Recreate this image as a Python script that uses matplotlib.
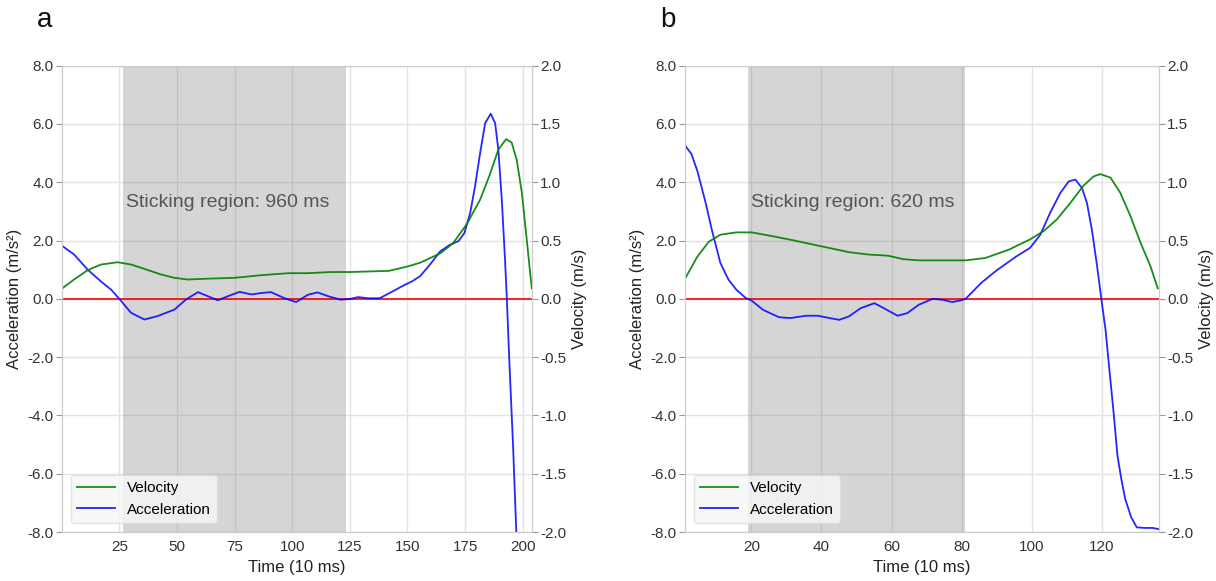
import matplotlib.pyplot as plt

plt.rcParams['font.family'] = ['Liberation Sans', 'DejaVu Sans']

# panel a  (time in 10 ms units)
a_acc_t = [0, 5.4, 11.3, 17, 21.4, 25, 30.1, 35.9, 41.7, 44.6, 48.9, 54, 59.1, 63.4, 67.8, 72.1,
           77.2, 82.3, 86.6, 90.8, 96.7, 101.7, 106.8, 111, 116, 121, 125.3, 128.6, 132.8, 137.9,
           142, 148.8, 152, 155.5, 159.8, 164.2, 168.5, 172.1, 174.7, 177.2, 179.3, 181.5, 183.7,
           186.1, 188, 189.4, 190.9, 192.3, 193.1, 194.1, 195.8, 197.2, 199, 201, 204]
a_acc = [1.83, 1.52, 1.0, 0.6, 0.32, 0.0, -0.48, -0.71, -0.59, -0.5, -0.37, -0.02, 0.23, 0.09,
         -0.05, 0.09, 0.24, 0.15, 0.2, 0.23, 0.02, -0.11, 0.14, 0.22, 0.08, -0.03, 0.0, 0.06, 0.02,
         0.02, 0.19, 0.48, 0.6, 0.78, 1.18, 1.63, 1.86, 1.98, 2.26, 2.95, 3.86, 5.0, 6.03,
         6.35, 6.03, 5.12, 3.41, 1.35, 0.0, -2.0, -5.06, -8.0, -10.5, -12.0, -12.5]
a_vel_t = [0, 5.4, 11.3, 17, 24.3, 30.1, 35.9, 43.1, 48.9, 54.7, 64.8, 74.9, 86.6, 98.4, 106.8,
           116.8, 125.3, 142, 150.5, 155.5, 164.2, 169.9, 175.7, 181.5, 185.8, 189.4, 192.8,
           195.2, 197.4, 199.6, 201.4, 203.9]
a_vel = [0.086, 0.166, 0.246, 0.294, 0.314, 0.294, 0.257, 0.209, 0.18, 0.166, 0.174, 0.18, 0.203,
         0.22, 0.22, 0.23, 0.23, 0.24, 0.28, 0.31, 0.39, 0.48, 0.64, 0.85, 1.07, 1.28, 1.37,
         1.34, 1.19, 0.91, 0.57, 0.09]

# panel b
b_acc_t = [1.25, 2.9, 4.6, 6.8, 9, 11.2, 13.5, 15.7, 18.4, 20.1, 23.4, 27.9, 31.2, 35.6, 39,
           42.3, 45.1, 47.9, 51.2, 55.1, 57.8, 61.7, 64.5, 67.8, 71.7, 74.5, 77.3, 79.5, 81.1,
           85.6, 90, 95.5, 99.5, 102.4, 105.2, 108.1, 110.5, 112.4, 114.3, 115.7, 117.1, 118.6,
           119.8, 121, 122.1, 123.3, 124.4, 125.5, 126.6, 128.3, 129.9, 132.2, 134.4, 136.2]
b_acc = [5.24, 4.98, 4.4, 3.39, 2.25, 1.23, 0.66, 0.32, 0.03, -0.06, -0.38, -0.63, -0.66, -0.58,
         -0.58, -0.66, -0.72, -0.6, -0.32, -0.15, -0.32, -0.58, -0.49, -0.2, 0.0, -0.03, -0.11,
         -0.06, 0.0, 0.55, 0.98, 1.45, 1.75, 2.2, 2.95, 3.63, 4.03, 4.09, 3.8, 3.29, 2.38, 1.12,
         0.0, -1.06, -2.43, -3.9, -5.38, -6.18, -6.86, -7.49, -7.84, -7.86, -7.86, -7.9]
b_vel_t = [1.25, 4.6, 7.9, 11.2, 15.7, 20.1, 25.6, 32.3, 40.1, 47.9, 53.4, 59, 63.4, 67.8, 74.5,
           81.1, 86.7, 93.3, 99.5, 103.3, 107.1, 110.9, 114.7, 117.6, 119.5, 122.4, 125.2, 128.1,
           131, 133.8, 135.9]
b_vel = [0.18, 0.36, 0.49, 0.55, 0.57, 0.57, 0.54, 0.50, 0.45, 0.40, 0.38, 0.37, 0.34, 0.33,
         0.33, 0.33, 0.35, 0.42, 0.51, 0.58, 0.68, 0.82, 0.97, 1.05, 1.07, 1.04, 0.91, 0.71,
         0.48, 0.28, 0.09]

panels = [
    ('a', a_acc_t, a_acc, a_vel_t, a_vel, (26.5, 123.5), 'Sticking region: 960 ms', (0, 203.9),
     [25, 50, 75, 100, 125, 150, 175, 200], 28),
    ('b', b_acc_t, b_acc, b_vel_t, b_vel, (19, 81), 'Sticking region: 620 ms', (1, 136.2),
     [20, 40, 60, 80, 100, 120], 20),
]
acc_ticks = [-8, -6, -4, -2, 0, 2, 4, 6, 8]
vel_ticks = [-2.0, -1.5, -1.0, -0.5, 0.0, 0.5, 1.0, 1.5, 2.0]

fig = plt.figure(figsize=(12.16, 5.81), dpi=100)
boxes = [[0.0507, 0.0843, 0.3866, 0.8027], [0.563, 0.0843, 0.390, 0.8027]]

for box, (letter, at, acc, vt, vel, span, note, xlim, xt, tx) in zip(boxes, panels):
    ax = fig.add_axes(box)
    ax.set_axisbelow(True)
    ax.grid(True, color='#e3e3e3', lw=1)
    for s in ax.spines.values():
        s.set_color('#cccccc')
    ax.axvspan(span[0], span[1], color='gray', alpha=0.33, lw=0, zorder=1)
    ax.axhline(0, color='red', lw=1.2, zorder=2)
    la, = ax.plot(at, acc, color='blue', lw=1.3, alpha=0.85, label='Acceleration', zorder=3)
    ax.set_xlim(*xlim)
    ax.set_ylim(-8, 8)
    ax.set_xticks(xt)
    ax.set_yticks(acc_ticks)
    ax.set_yticklabels(['%.1f' % v for v in acc_ticks])
    ax.tick_params(axis='x', length=0, labelsize=11, labelcolor='#333333', pad=6)
    ax.tick_params(axis='y', length=4, color='#999999', labelsize=11, labelcolor='#333333', pad=2)
    ax.set_xlabel('Time (10 ms)', fontsize=12, color='#222222', labelpad=4)
    ax.set_ylabel('Acceleration (m/s²)', fontsize=12, color='#222222', labelpad=4)
    ax.text(tx, 3.3, note, fontsize=14, color='#555555', va='center', zorder=4)

    ax2 = ax.twinx()
    ax2.grid(False)
    for s in ax2.spines.values():
        s.set_color('#cccccc')
    lv, = ax2.plot(vt, vel, color='green', lw=1.3, alpha=0.9, label='Velocity')
    ax2.set_ylim(-2, 2)
    ax2.set_yticks(vel_ticks)
    ax2.set_yticklabels(['%.1f' % v for v in vel_ticks])
    ax2.tick_params(axis='y', length=4, color='#999999', labelsize=11, labelcolor='#333333', pad=2)
    ax2.set_ylabel('Velocity (m/s)', fontsize=12, color='#222222', labelpad=4)
    leg = ax2.legend([lv, la], ['Velocity', 'Acceleration'], loc='lower left', fontsize=11,
                     frameon=True, fancybox=True, framealpha=0.8, edgecolor='#dddddd',
                     borderaxespad=0.6, handlelength=2.5)
    leg.get_frame().set_facecolor('#f7f7f7')

    fig.text(box[0] - 0.014, 0.965, letter, fontsize=20, color='#111111', ha='center', va='center')

fig.savefig('out.png', dpi=100)
